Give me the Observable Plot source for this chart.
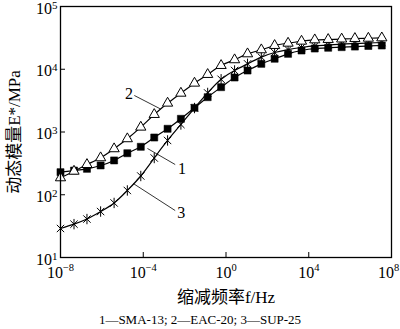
<!DOCTYPE html>
<html><head><meta charset="utf-8">
<script src="https://cdn.jsdelivr.net/npm/d3@7"></script>
<script src="https://cdn.jsdelivr.net/npm/@observablehq/plot@0.6"></script>
<style>
body{margin:0;background:#fff;}
#chart{width:400px;height:329px;overflow:hidden;}
#chart svg, #chart svg text{font-family:"Liberation Serif","Times New Roman","Noto Sans CJK SC",serif;}
.cap{font-family:"Liberation Serif","Noto Sans CJK SC",serif;font-size:13px;text-align:center;height:19px;line-height:19px;color:#000;}
</style></head><body><div id="chart"></div><script>
// reduced frequency (Hz) of the plotted points
const freq = [1e-8, 4.5e-8, 1.9e-7, 8.7e-7, 3.9e-6, 1.7e-5, 7.6e-5, 3.4e-4, 1.5e-3, 6.6e-3, 0.030, 0.13, 0.58, 2.6, 11, 51, 224, 1000, 4470, 19500, 87000, 3.9e5, 1.7e6, 7.6e6, 3.4e7];
// dynamic modulus E* (MPa)
const smaE = [229, 243, 259, 293, 352, 459, 581, 817, 1125, 1622, 2430, 3590, 5180, 7390, 9550, 12200, 14700, 17600, 19900, 21400, 22000, 22500, 23000, 23500, 23900];
const eacE = [186, 237, 303, 388, 540, 780, 1194, 1900, 2880, 4150, 6000, 8250, 11470, 14150, 17600, 20400, 23900, 26000, 28000, 29400, 29800, 30300, 30900, 31200, 31600];
const supE = [29, 34, 41, 54, 74, 117, 199, 385, 733, 1318, 2410, 4190, 6920, 9550, 12200, 15600, 18500, 20600, 22200, 23500, 24300, 25200, 25700, 26200, 26700];
const seriesNames = ["1", "2", "3"];
const captionText = "1—SMA-13; 2—EAC-20; 3—SUP-25";
const xTicks = [1e-8, 1e-4, 1, 1e4, 1e8];
const xTickLabels = ["10^−8", "10^−4", "10^0", "10^4", "10^8"];
const yTicks = [1e1, 1e2, 1e3, 1e4, 1e5];
const yTickLabels = ["10^1", "10^2", "10^3", "10^4", "10^5"];
const xLabel = "缩减频率f/Hz";
const yLabel = "动态模量E*/MPa";
// annotation callouts (data coordinates)
const leaderFrom = [{f: 1.6e-4, e: 546}, {f: 6.8e-4, e: 2330}, {f: 3.3e-5, e: 151}];
const leaderTo   = [{f: 3.5e-3, e: 303}, {f: 3.7e-5, e: 3820}, {f: 3.5e-3, e: 56}];
const leaderText = [{f: 7.4e-3, e: 262}, {f: 2.05e-5, e: 4040}, {f: 6.9e-3, e: 52}];

const sma = freq.map((f, i) => ({f, e: smaE[i]}));
const eac = freq.map((f, i) => ({f, e: eacE[i]}));
const sup = freq.map((f, i) => ({f, e: supE[i]}));
const links = leaderFrom.map((a, i) => ({x1: a.f, y1: a.e, x2: leaderTo[i].f, y2: leaderTo[i].e}));
const labs = leaderText.map((a, i) => ({f: a.f, e: a.e, t: seriesNames[i]}));

const star = {draw(ctx, size) {
  const r = Math.sqrt(size / Math.PI), d = r * Math.SQRT1_2;
  ctx.moveTo(0, -r); ctx.lineTo(0, r);
  ctx.moveTo(-d, -d); ctx.lineTo(d, d);
  ctx.moveTo(-d, d); ctx.lineTo(d, -d);
}};

const W = 400, H = 310, ML = 60, MR = 9, MT = 6, MB = 53;
const fam = '"Liberation Serif","Times New Roman","Noto Sans CJK SC",serif';
const svg = Plot.plot({
  width: W, height: H,
  marginLeft: ML, marginRight: MR, marginTop: MT, marginBottom: MB,
  style: {fontFamily: fam, fontSize: "16px", background: "white", color: "black", overflow: "visible"},
  x: {type: "log", domain: [1e-8, 1e8]},
  y: {type: "log", domain: [10, 1e5]},
  marks: [
    Plot.ruleX(xTicks.slice(1, -1), {stroke: "black", strokeWidth: 1, insetTop: (H - MT - MB) - 5}),
    Plot.ruleY(yTicks.slice(1, -1), {stroke: "black", strokeWidth: 1, insetRight: (W - ML - MR) - 5}),
    Plot.axisX({ticks: xTicks, tickSize: 0, tickPadding: 9, label: null, fontSize: 16, fontFamily: fam,
      tickFormat: d => xTickLabels[xTicks.indexOf(d)]}),
    Plot.axisY({ticks: yTicks, tickSize: 0, tickPadding: 3, dy: 2, label: null, fontSize: 16, fontFamily: fam,
      tickFormat: d => yTickLabels[yTicks.indexOf(d)]}),
    Plot.line(sma, {x: "f", y: "e", stroke: "black", strokeWidth: 1.2, curve: "natural"}),
    Plot.line(eac, {x: "f", y: "e", stroke: "black", strokeWidth: 1.2, curve: "natural"}),
    Plot.line(sup, {x: "f", y: "e", stroke: "black", strokeWidth: 1.2, curve: "natural"}),
    Plot.dot(sup, {x: "f", y: "e", symbol: star, r: 5.2, fill: "none", stroke: "black", strokeWidth: 1}),
    Plot.dot(sma, {x: "f", y: "e", symbol: "square", r: 4, fill: "black", stroke: "black", strokeWidth: 0.5}),
    Plot.dot(eac, {x: "f", y: "e", symbol: "triangle", r: 3.8, fill: "white", stroke: "black", strokeWidth: 1}),
    Plot.link(links, {x1: "x1", y1: "y1", x2: "x2", y2: "y2", stroke: "black", strokeWidth: 0.8}),
    Plot.text(labs, {x: "f", y: "e", text: "t", fontSize: 16, fontFamily: fam}),
    Plot.frame({stroke: "black", strokeWidth: 1.3}),
    Plot.text([xLabel], {frameAnchor: "bottom", dy: 45, fontSize: 17, fontFamily: fam, ariaLabel: "xlabel"}),
    Plot.text([yLabel], {frameAnchor: "left", textAnchor: "middle", dx: -46, rotate: -90, fontSize: 17, fontFamily: fam, ariaLabel: "ylabel"})
  ]
});
svg.style.fontFamily = fam;
svg.setAttribute("font-family", fam);

const NS = "http://www.w3.org/2000/svg";
function rich(el, parts) {
  while (el.firstChild) el.removeChild(el.firstChild);
  let raised = 0;
  for (const p of parts) {
    const ts = document.createElementNS(NS, "tspan");
    ts.textContent = p.t;
    if (p.sup) { ts.setAttribute("font-size", p.fs || "11px"); ts.setAttribute("dy", String(-(p.up || 6) - raised)); raised = (p.up || 6); }
    else if (raised) { ts.setAttribute("dy", String(raised)); raised = 0; }
    if (p.it) ts.setAttribute("font-style", "italic");
    el.appendChild(ts);
  }
}
const xt = d3.select(svg).selectAll('g[aria-label="x-axis tick label"] text');
xt.each(function(_, i, nodes) {
  const [b, e] = this.textContent.split("^");
  rich(this, [{t: b}, {t: e, sup: true, up: 7, fs: "10.5px"}]);
  if (i === nodes.length - 1) this.setAttribute("dx", "-3");
});
d3.select(svg).selectAll('g[aria-label="y-axis tick label"] text').each(function() {
  const [b, e] = this.textContent.split("^");
  rich(this, [{t: b}, {t: e, sup: true, up: 5}]);
});
d3.select(svg).selectAll('g[aria-label="xlabel"] text').each(function() {
  rich(this, [{t: "缩减频率"}, {t: "f", it: true}, {t: "/Hz"}]);
});
d3.select(svg).selectAll('g[aria-label="ylabel"] text').each(function() {
  rich(this, [{t: "动态模量"}, {t: "E", it: true}, {t: "*", sup: true, up: 6, fs: "11px"}, {t: "/MPa"}]);
});

const root = document.getElementById("chart");
root.appendChild(svg);
const cap = document.createElement("div");
cap.className = "cap";
cap.textContent = captionText;
root.appendChild(cap);
</script></body></html>
